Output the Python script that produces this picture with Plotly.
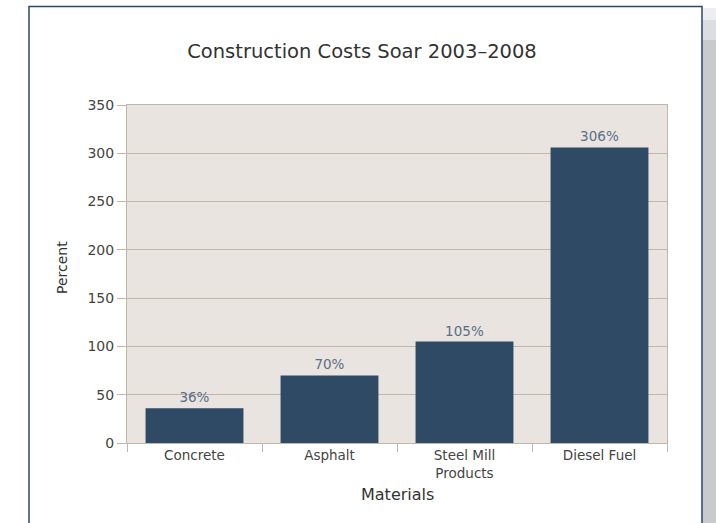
import plotly.graph_objects as go

categories = ["Concrete", "Asphalt", "Steel Mill<br>Products", "Diesel Fuel"]
values = [36, 70, 105, 306]
labels = ["36%", "70%", "105%", "306%"]
y_ticks = [0, 50, 100, 150, 200, 250, 300, 350]

W, H = 716, 523
L, R, T, B = 127, 49, 105, 80
pw, ph = W - L - R, H - T - B

def px(x):
    return (x - L) / pw

def py(y):
    return (H - B - y) / ph

FONT = "DejaVu Sans"
TAN = "#c2b6a8"

fig = go.Figure()
fig.add_trace(go.Bar(
    x=categories, y=values,
    marker=dict(color="#2e4a64", line=dict(width=0)),
    text=labels, textposition="outside",
    textfont=dict(family=FONT, size=13.5, color="#5a6f86"),
    cliponaxis=False,
))

shapes = [
    # shadow on right
    dict(type="rect", xref="paper", yref="paper",
         x0=px(702), x1=px(716), y0=py(40), y1=py(560),
         fillcolor="#c9cacc", line=dict(width=0), layer="below"),
    dict(type="rect", xref="paper", yref="paper",
         x0=px(702), x1=px(716), y0=py(20), y1=py(40),
         fillcolor="#dcdde0", line=dict(width=0), layer="below"),
    dict(type="rect", xref="paper", yref="paper",
         x0=px(702), x1=px(716), y0=py(8), y1=py(20),
         fillcolor="#eeeef0", line=dict(width=0), layer="below"),
    # frame
    dict(type="rect", xref="paper", yref="paper",
         x0=px(29), x1=px(702), y0=py(6.5), y1=py(560),
         fillcolor="rgba(0,0,0,0)", line=dict(color="#2c4868", width=1.5), layer="below"),
]

fig.update_layout(
    width=W, height=H,
    margin=dict(l=L, r=R, t=T, b=B),
    paper_bgcolor="white",
    plot_bgcolor="#e9e4e0",
    showlegend=False,
    bargap=0.275,
    font=dict(family=FONT, color="#444444"),
    shapes=shapes,
    title=dict(text="Construction Costs Soar 2003–2008",
               font=dict(family=FONT, size=19.5, color="#333333"),
               x=362 / W, xref="container", xanchor="center",
               y=1 - 51 / H, yref="container", yanchor="middle"),
    annotations=[
        dict(text="Materials", xref="paper", yref="paper",
             x=px(397), y=py(495), xanchor="center", yanchor="middle",
             showarrow=False, font=dict(family=FONT, size=16, color="#333333")),
        dict(text="Percent", xref="paper", yref="paper",
             x=px(62), y=py(268), xanchor="center", yanchor="middle",
             textangle=-90, showarrow=False,
             font=dict(family=FONT, size=14, color="#333333")),
    ],
)

fig.update_xaxes(
    tickson="boundaries", ticks="outside", ticklen=8, tickcolor=TAN, tickwidth=1,
    showline=True, linecolor=TAN, linewidth=1, mirror=True,
    tickfont=dict(family=FONT, size=13.5, color="#444444"),
    showgrid=False,
)
fig.update_yaxes(
    range=[0, 350], tickvals=y_ticks,
    ticks="outside", ticklen=9, tickcolor=TAN, tickwidth=1,
    showline=True, linecolor=TAN, linewidth=1, mirror=True,
    showgrid=True, gridcolor=TAN, gridwidth=1,
    zeroline=False,
    tickfont=dict(family=FONT, size=14, color="#444444"),
)

fig.write_html("out.html")
